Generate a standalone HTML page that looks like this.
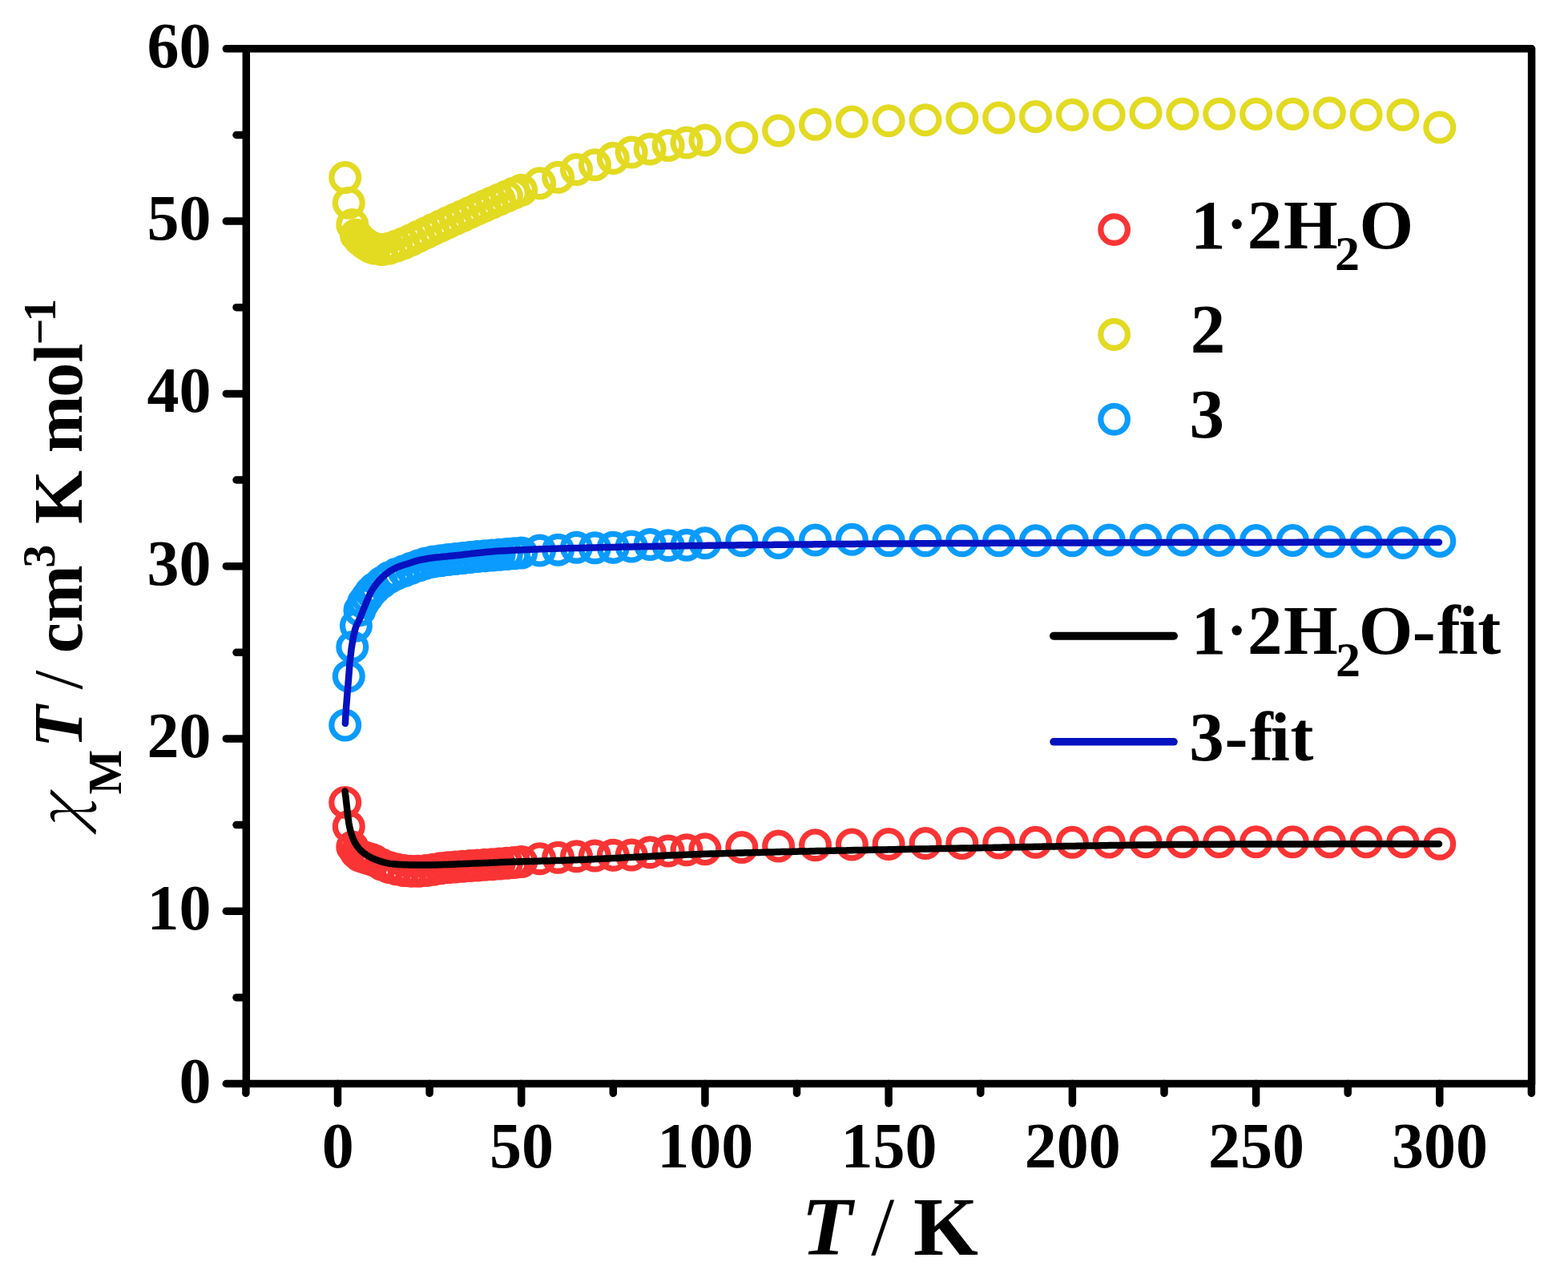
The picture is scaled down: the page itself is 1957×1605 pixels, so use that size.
<!DOCTYPE html>
<html><head><meta charset="utf-8"><style>html,body{margin:0;padding:0;background:#fff;overflow:hidden}svg{display:block}</style></head><body>
<svg width="1957" height="1605" viewBox="0 0 1957 1605">
<rect width="1957" height="1605" fill="#fff"/>
<g fill="none" stroke="#E3DA22" stroke-width="7.2"><circle cx="430.7" cy="221.6" r="16.9"/><circle cx="435.3" cy="253.3" r="16.9"/><circle cx="439.8" cy="280.4" r="16.9"/><circle cx="444.4" cy="293.3" r="16.9"/><circle cx="449.0" cy="298.7" r="16.9"/><circle cx="453.6" cy="302.5" r="16.9"/><circle cx="458.2" cy="305.7" r="16.9"/><circle cx="462.8" cy="308.4" r="16.9"/><circle cx="467.3" cy="310.0" r="16.9"/><circle cx="476.5" cy="311.4" r="16.9"/><circle cx="485.7" cy="310.1" r="16.9"/><circle cx="494.8" cy="307.1" r="16.9"/><circle cx="504.0" cy="303.5" r="16.9"/><circle cx="513.2" cy="299.4" r="16.9"/><circle cx="522.4" cy="295.1" r="16.9"/><circle cx="531.5" cy="290.7" r="16.9"/><circle cx="540.7" cy="286.2" r="16.9"/><circle cx="549.9" cy="281.9" r="16.9"/><circle cx="559.0" cy="277.7" r="16.9"/><circle cx="568.2" cy="273.5" r="16.9"/><circle cx="577.4" cy="269.4" r="16.9"/><circle cx="586.5" cy="265.2" r="16.9"/><circle cx="595.7" cy="261.1" r="16.9"/><circle cx="604.9" cy="257.0" r="16.9"/><circle cx="614.0" cy="252.9" r="16.9"/><circle cx="623.2" cy="248.9" r="16.9"/><circle cx="632.4" cy="245.0" r="16.9"/><circle cx="641.5" cy="241.1" r="16.9"/><circle cx="650.7" cy="237.3" r="16.9"/><circle cx="673.6" cy="228.7" r="16.9"/><circle cx="696.6" cy="221.2" r="16.9"/><circle cx="719.5" cy="211.5" r="16.9"/><circle cx="742.4" cy="205.7" r="16.9"/><circle cx="765.3" cy="197.5" r="16.9"/><circle cx="788.2" cy="190.0" r="16.9"/><circle cx="811.2" cy="185.9" r="16.9"/><circle cx="834.1" cy="181.4" r="16.9"/><circle cx="857.0" cy="178.1" r="16.9"/><circle cx="879.9" cy="175.1" r="16.9"/><circle cx="925.8" cy="171.7" r="16.9"/><circle cx="971.6" cy="162.9" r="16.9"/><circle cx="1017.5" cy="155.3" r="16.9"/><circle cx="1063.3" cy="152.1" r="16.9"/><circle cx="1109.1" cy="150.8" r="16.9"/><circle cx="1155.0" cy="149.7" r="16.9"/><circle cx="1200.8" cy="147.6" r="16.9"/><circle cx="1246.7" cy="146.9" r="16.9"/><circle cx="1292.5" cy="145.4" r="16.9"/><circle cx="1338.4" cy="143.3" r="16.9"/><circle cx="1384.2" cy="143.3" r="16.9"/><circle cx="1430.0" cy="141.1" r="16.9"/><circle cx="1475.9" cy="142.2" r="16.9"/><circle cx="1521.7" cy="142.2" r="16.9"/><circle cx="1567.6" cy="142.2" r="16.9"/><circle cx="1613.4" cy="142.2" r="16.9"/><circle cx="1659.3" cy="141.1" r="16.9"/><circle cx="1705.1" cy="143.3" r="16.9"/><circle cx="1750.9" cy="143.3" r="16.9"/><circle cx="1796.8" cy="159.0" r="16.9"/></g>
<g fill="none" stroke="#0A9BFF" stroke-width="7.2"><circle cx="430.7" cy="905.1" r="16.9"/><circle cx="435.3" cy="844.0" r="16.9"/><circle cx="439.8" cy="807.4" r="16.9"/><circle cx="444.4" cy="780.9" r="16.9"/><circle cx="449.0" cy="761.6" r="16.9"/><circle cx="453.6" cy="751.9" r="16.9"/><circle cx="458.2" cy="745.4" r="16.9"/><circle cx="462.8" cy="739.0" r="16.9"/><circle cx="467.3" cy="734.6" r="16.9"/><circle cx="476.5" cy="727.1" r="16.9"/><circle cx="485.7" cy="720.7" r="16.9"/><circle cx="494.8" cy="716.3" r="16.9"/><circle cx="504.0" cy="712.7" r="16.9"/><circle cx="513.2" cy="709.2" r="16.9"/><circle cx="522.4" cy="706.0" r="16.9"/><circle cx="531.5" cy="703.0" r="16.9"/><circle cx="540.7" cy="701.1" r="16.9"/><circle cx="549.9" cy="699.7" r="16.9"/><circle cx="559.0" cy="698.5" r="16.9"/><circle cx="568.2" cy="697.4" r="16.9"/><circle cx="577.4" cy="696.4" r="16.9"/><circle cx="586.5" cy="695.5" r="16.9"/><circle cx="595.7" cy="694.6" r="16.9"/><circle cx="604.9" cy="693.7" r="16.9"/><circle cx="614.0" cy="692.9" r="16.9"/><circle cx="623.2" cy="692.2" r="16.9"/><circle cx="632.4" cy="691.5" r="16.9"/><circle cx="641.5" cy="690.7" r="16.9"/><circle cx="650.7" cy="689.9" r="16.9"/><circle cx="673.6" cy="687.1" r="16.9"/><circle cx="696.6" cy="686.2" r="16.9"/><circle cx="719.5" cy="683.2" r="16.9"/><circle cx="742.4" cy="683.8" r="16.9"/><circle cx="765.3" cy="683.2" r="16.9"/><circle cx="788.2" cy="682.1" r="16.9"/><circle cx="811.2" cy="679.5" r="16.9"/><circle cx="834.1" cy="680.8" r="16.9"/><circle cx="857.0" cy="680.2" r="16.9"/><circle cx="879.9" cy="677.8" r="16.9"/><circle cx="925.8" cy="674.8" r="16.9"/><circle cx="971.6" cy="677.6" r="16.9"/><circle cx="1017.5" cy="673.9" r="16.9"/><circle cx="1063.3" cy="673.3" r="16.9"/><circle cx="1109.1" cy="674.8" r="16.9"/><circle cx="1155.0" cy="674.8" r="16.9"/><circle cx="1200.8" cy="674.8" r="16.9"/><circle cx="1246.7" cy="674.8" r="16.9"/><circle cx="1292.5" cy="674.8" r="16.9"/><circle cx="1338.4" cy="674.8" r="16.9"/><circle cx="1384.2" cy="673.9" r="16.9"/><circle cx="1430.0" cy="673.9" r="16.9"/><circle cx="1475.9" cy="673.9" r="16.9"/><circle cx="1521.7" cy="674.4" r="16.9"/><circle cx="1567.6" cy="674.4" r="16.9"/><circle cx="1613.4" cy="674.4" r="16.9"/><circle cx="1659.3" cy="676.1" r="16.9"/><circle cx="1705.1" cy="676.3" r="16.9"/><circle cx="1750.9" cy="677.6" r="16.9"/><circle cx="1796.8" cy="675.4" r="16.9"/></g>
<g fill="none" stroke="#FA3434" stroke-width="7.2"><circle cx="430.7" cy="1001.4" r="16.9"/><circle cx="435.3" cy="1031.5" r="16.9"/><circle cx="439.8" cy="1057.1" r="16.9"/><circle cx="444.4" cy="1064.0" r="16.9"/><circle cx="449.0" cy="1067.9" r="16.9"/><circle cx="453.6" cy="1069.6" r="16.9"/><circle cx="458.2" cy="1070.9" r="16.9"/><circle cx="462.8" cy="1072.2" r="16.9"/><circle cx="467.3" cy="1074.1" r="16.9"/><circle cx="476.5" cy="1079.1" r="16.9"/><circle cx="485.7" cy="1082.4" r="16.9"/><circle cx="494.8" cy="1084.8" r="16.9"/><circle cx="504.0" cy="1086.6" r="16.9"/><circle cx="513.2" cy="1087.2" r="16.9"/><circle cx="522.4" cy="1087.3" r="16.9"/><circle cx="531.5" cy="1086.6" r="16.9"/><circle cx="540.7" cy="1085.2" r="16.9"/><circle cx="549.9" cy="1083.8" r="16.9"/><circle cx="559.0" cy="1082.8" r="16.9"/><circle cx="568.2" cy="1082.0" r="16.9"/><circle cx="577.4" cy="1081.3" r="16.9"/><circle cx="586.5" cy="1080.6" r="16.9"/><circle cx="595.7" cy="1080.0" r="16.9"/><circle cx="604.9" cy="1079.3" r="16.9"/><circle cx="614.0" cy="1078.7" r="16.9"/><circle cx="623.2" cy="1077.9" r="16.9"/><circle cx="632.4" cy="1077.2" r="16.9"/><circle cx="641.5" cy="1076.4" r="16.9"/><circle cx="650.7" cy="1075.4" r="16.9"/><circle cx="673.6" cy="1071.8" r="16.9"/><circle cx="696.6" cy="1070.3" r="16.9"/><circle cx="719.5" cy="1068.8" r="16.9"/><circle cx="742.4" cy="1068.1" r="16.9"/><circle cx="765.3" cy="1067.3" r="16.9"/><circle cx="788.2" cy="1067.0" r="16.9"/><circle cx="811.2" cy="1063.8" r="16.9"/><circle cx="834.1" cy="1062.1" r="16.9"/><circle cx="857.0" cy="1060.8" r="16.9"/><circle cx="879.9" cy="1059.7" r="16.9"/><circle cx="925.8" cy="1057.6" r="16.9"/><circle cx="971.6" cy="1056.1" r="16.9"/><circle cx="1017.5" cy="1054.8" r="16.9"/><circle cx="1063.3" cy="1053.9" r="16.9"/><circle cx="1109.1" cy="1053.5" r="16.9"/><circle cx="1155.0" cy="1052.6" r="16.9"/><circle cx="1200.8" cy="1052.4" r="16.9"/><circle cx="1246.7" cy="1052.0" r="16.9"/><circle cx="1292.5" cy="1051.3" r="16.9"/><circle cx="1338.4" cy="1051.3" r="16.9"/><circle cx="1384.2" cy="1051.1" r="16.9"/><circle cx="1430.0" cy="1050.7" r="16.9"/><circle cx="1475.9" cy="1050.7" r="16.9"/><circle cx="1521.7" cy="1050.7" r="16.9"/><circle cx="1567.6" cy="1050.7" r="16.9"/><circle cx="1613.4" cy="1050.7" r="16.9"/><circle cx="1659.3" cy="1050.7" r="16.9"/><circle cx="1705.1" cy="1050.7" r="16.9"/><circle cx="1750.9" cy="1050.7" r="16.9"/><circle cx="1796.8" cy="1053.3" r="16.9"/></g>
<path d="M430.6 987.5 L431.0 991.1 L431.5 994.6 L431.9 998.2 L432.3 1001.7 L432.7 1005.3 L433.1 1008.8 L433.5 1012.4 L433.9 1016.0 L434.3 1019.5 L434.8 1023.1 L435.3 1026.6 L435.9 1030.1 L436.6 1033.6 L437.5 1037.2 L438.5 1040.6 L439.6 1044.0 L440.9 1047.3 L442.4 1050.6 L444.2 1053.7 L446.2 1056.7 L448.4 1059.4 L451.0 1062.0 L453.7 1064.3 L456.6 1066.5 L459.6 1068.4 L462.7 1070.1 L466.0 1071.7 L469.3 1073.1 L472.7 1074.3 L476.1 1075.4 L479.6 1076.4 L483.1 1077.2 L486.6 1077.9 L490.1 1078.3 L493.7 1078.6 L497.2 1078.9 L500.8 1079.1 L504.4 1079.3 L508.0 1079.3 L511.6 1079.4 L515.1 1079.5 L518.7 1079.5 L522.3 1079.6 L525.9 1079.6 L529.5 1079.6 L533.0 1079.6 L536.6 1079.6 L540.2 1079.5 L543.8 1079.4 L547.3 1079.3 L550.9 1079.2 L554.5 1079.1 L558.1 1079.0 L561.7 1078.8 L565.2 1078.7 L568.8 1078.5 L572.4 1078.3 L576.0 1078.2 L579.5 1078.0 L583.1 1077.9 L586.7 1077.7 L590.3 1077.6 L593.8 1077.4 L597.4 1077.3 L601.0 1077.2 L604.6 1077.0 L608.1 1076.9 L611.7 1076.7 L615.3 1076.6 L618.9 1076.4 L622.5 1076.3 L626.0 1076.1 L629.6 1076.0 L633.2 1075.8 L636.8 1075.7 L640.3 1075.6 L643.9 1075.5 L647.5 1075.4 L651.1 1075.3 L654.6 1075.2 L658.2 1075.1 L661.8 1075.0 L665.4 1074.9 L669.0 1074.8 L672.5 1074.7 L676.1 1074.6 L679.7 1074.5 L683.3 1074.4 L686.8 1074.3 L690.4 1074.2 L694.0 1074.1 L697.6 1074.0 L701.2 1073.9 L704.7 1073.7 L708.3 1073.6 L711.9 1073.5 L715.5 1073.3 L719.0 1073.2 L722.6 1073.0 L726.2 1072.9 L729.8 1072.7 L733.3 1072.6 L736.9 1072.4 L740.5 1072.3 L744.1 1072.1 L747.6 1071.9 L751.2 1071.8 L754.8 1071.6 L758.4 1071.4 L761.9 1071.2 L765.5 1071.0 L769.1 1070.9 L772.7 1070.7 L776.2 1070.5 L779.8 1070.3 L783.4 1070.1 L787.0 1069.9 L790.5 1069.8 L794.1 1069.6 L797.7 1069.4 L801.3 1069.2 L804.8 1069.0 L808.4 1068.9 L812.0 1068.7 L815.6 1068.5 L819.1 1068.3 L822.7 1068.1 L826.3 1068.0 L829.9 1067.8 L833.4 1067.6 L837.0 1067.5 L840.6 1067.3 L844.2 1067.2 L847.7 1067.0 L851.3 1066.9 L854.9 1066.7 L858.5 1066.6 L862.0 1066.4 L865.6 1066.3 L869.2 1066.2 L872.8 1066.0 L876.3 1065.9 L879.9 1065.8 L883.5 1065.7 L887.1 1065.6 L890.6 1065.5 L894.2 1065.4 L897.8 1065.3 L901.4 1065.2 L905.0 1065.1 L908.5 1064.9 L912.1 1064.8 L915.7 1064.7 L919.3 1064.6 L922.8 1064.5 L926.4 1064.4 L930.0 1064.3 L933.6 1064.2 L937.1 1064.2 L940.7 1064.1 L944.3 1064.0 L947.9 1063.9 L951.5 1063.8 L955.0 1063.7 L958.6 1063.6 L962.2 1063.5 L965.8 1063.4 L969.3 1063.3 L972.9 1063.2 L976.5 1063.1 L980.1 1063.1 L983.7 1063.0 L987.2 1062.9 L990.8 1062.8 L994.4 1062.7 L998.0 1062.6 L1001.5 1062.5 L1005.1 1062.5 L1008.7 1062.4 L1012.3 1062.3 L1015.9 1062.2 L1019.4 1062.1 L1023.0 1062.1 L1026.6 1062.0 L1030.2 1061.9 L1033.8 1061.8 L1037.3 1061.7 L1040.9 1061.7 L1044.5 1061.6 L1048.1 1061.5 L1051.6 1061.4 L1055.2 1061.4 L1058.8 1061.3 L1062.4 1061.2 L1066.0 1061.1 L1069.5 1061.1 L1073.1 1061.0 L1076.7 1060.9 L1080.3 1060.9 L1083.8 1060.8 L1087.4 1060.7 L1091.0 1060.6 L1094.6 1060.6 L1098.2 1060.5 L1101.7 1060.4 L1105.3 1060.4 L1108.9 1060.3 L1112.5 1060.2 L1116.1 1060.2 L1119.6 1060.1 L1123.2 1060.0 L1126.8 1060.0 L1130.4 1059.9 L1133.9 1059.8 L1137.5 1059.7 L1141.1 1059.7 L1144.7 1059.6 L1148.3 1059.5 L1151.8 1059.5 L1155.4 1059.4 L1159.0 1059.4 L1162.6 1059.3 L1166.2 1059.2 L1169.7 1059.2 L1173.3 1059.1 L1176.9 1059.0 L1180.5 1059.0 L1184.0 1058.9 L1187.6 1058.8 L1191.2 1058.8 L1194.8 1058.7 L1198.4 1058.6 L1201.9 1058.6 L1205.5 1058.5 L1209.1 1058.4 L1212.7 1058.4 L1216.3 1058.3 L1219.8 1058.2 L1223.4 1058.2 L1227.0 1058.1 L1230.6 1058.0 L1234.1 1058.0 L1237.7 1057.9 L1241.3 1057.8 L1244.9 1057.8 L1248.5 1057.7 L1252.0 1057.6 L1255.6 1057.5 L1259.2 1057.5 L1262.8 1057.4 L1266.3 1057.3 L1269.9 1057.3 L1273.5 1057.2 L1277.1 1057.1 L1280.7 1057.0 L1284.2 1057.0 L1287.8 1056.9 L1291.4 1056.8 L1295.0 1056.8 L1298.6 1056.7 L1302.1 1056.6 L1305.7 1056.6 L1309.3 1056.5 L1312.9 1056.4 L1316.4 1056.4 L1320.0 1056.3 L1323.6 1056.2 L1327.2 1056.1 L1330.8 1056.1 L1334.3 1056.0 L1337.9 1055.9 L1341.5 1055.9 L1345.1 1055.8 L1348.7 1055.8 L1352.2 1055.7 L1355.8 1055.6 L1359.4 1055.6 L1363.0 1055.5 L1366.5 1055.4 L1370.1 1055.4 L1373.7 1055.3 L1377.3 1055.3 L1380.9 1055.2 L1384.4 1055.1 L1388.0 1055.1 L1391.6 1055.0 L1395.2 1055.0 L1398.7 1054.9 L1402.3 1054.9 L1405.9 1054.8 L1409.5 1054.7 L1413.1 1054.7 L1416.6 1054.6 L1420.2 1054.6 L1423.8 1054.5 L1427.4 1054.5 L1431.0 1054.4 L1434.5 1054.4 L1438.1 1054.4 L1441.7 1054.3 L1445.3 1054.3 L1448.9 1054.2 L1452.4 1054.2 L1456.0 1054.2 L1459.6 1054.1 L1463.2 1054.1 L1466.7 1054.0 L1470.3 1054.0 L1473.9 1054.0 L1477.5 1053.9 L1481.1 1053.9 L1484.6 1053.9 L1488.2 1053.9 L1491.8 1053.8 L1495.4 1053.8 L1499.0 1053.8 L1502.5 1053.8 L1506.1 1053.8 L1509.7 1053.7 L1513.3 1053.7 L1516.8 1053.7 L1520.4 1053.7 L1524.0 1053.7 L1527.6 1053.7 L1531.2 1053.7 L1534.7 1053.7 L1538.3 1053.6 L1541.9 1053.6 L1545.5 1053.6 L1549.1 1053.6 L1552.6 1053.6 L1556.2 1053.6 L1559.8 1053.6 L1563.4 1053.6 L1566.9 1053.6 L1570.5 1053.5 L1574.1 1053.5 L1577.7 1053.5 L1581.3 1053.5 L1584.8 1053.5 L1588.4 1053.5 L1592.0 1053.5 L1595.6 1053.5 L1599.2 1053.5 L1602.7 1053.5 L1606.3 1053.5 L1609.9 1053.4 L1613.5 1053.4 L1617.1 1053.4 L1620.6 1053.4 L1624.2 1053.4 L1627.8 1053.4 L1631.4 1053.4 L1634.9 1053.4 L1638.5 1053.4 L1642.1 1053.4 L1645.7 1053.4 L1649.3 1053.4 L1652.8 1053.4 L1656.4 1053.3 L1660.0 1053.3 L1663.6 1053.3 L1667.2 1053.3 L1670.7 1053.3 L1674.3 1053.3 L1677.9 1053.3 L1681.5 1053.3 L1685.1 1053.3 L1688.6 1053.3 L1692.2 1053.3 L1695.8 1053.3 L1699.4 1053.3 L1702.9 1053.3 L1706.5 1053.3 L1710.1 1053.3 L1713.7 1053.3 L1717.3 1053.2 L1720.8 1053.2 L1724.4 1053.2 L1728.0 1053.2 L1731.6 1053.2 L1735.2 1053.2 L1738.7 1053.2 L1742.3 1053.2 L1745.9 1053.2 L1749.5 1053.2 L1753.1 1053.2 L1756.6 1053.2 L1760.2 1053.2 L1763.8 1053.2 L1767.4 1053.2 L1770.9 1053.2 L1774.5 1053.2 L1778.1 1053.2 L1781.7 1053.2 L1785.3 1053.2 L1788.8 1053.2 L1792.4 1053.2 L1796.0 1053.2" fill="none" stroke="#000" stroke-width="8.5" stroke-linecap="round" stroke-linejoin="round"/>
<path d="M430.9 903.0 L431.1 899.2 L431.3 895.4 L431.5 891.6 L431.8 887.8 L432.0 884.0 L432.3 880.2 L432.6 876.4 L432.9 872.6 L433.2 868.9 L433.5 865.1 L433.9 861.3 L434.2 857.5 L434.5 853.7 L434.8 849.9 L435.1 846.1 L435.4 842.3 L435.7 838.5 L436.0 834.7 L436.3 830.9 L436.6 827.2 L437.0 823.4 L437.4 819.6 L437.9 815.8 L438.3 812.0 L438.8 808.2 L439.4 804.4 L440.0 800.7 L440.7 796.9 L441.4 793.2 L442.2 789.5 L443.1 785.9 L444.2 782.3 L445.7 778.8 L447.4 775.4 L449.1 771.9 L450.6 768.4 L452.0 764.9 L453.4 761.3 L454.8 757.8 L456.2 754.2 L457.6 750.7 L459.1 747.2 L460.6 743.7 L462.2 740.3 L464.1 737.0 L466.1 733.8 L468.3 730.7 L470.7 727.7 L473.1 724.8 L475.8 722.0 L478.5 719.4 L481.3 716.8 L484.4 714.5 L487.5 712.3 L490.8 710.5 L494.2 708.7 L497.7 707.2 L501.2 706.0 L504.9 704.8 L508.5 703.7 L512.2 702.5 L515.8 701.3 L519.4 700.1 L523.0 699.2 L526.8 698.4 L530.5 697.7 L534.3 697.0 L538.0 696.5 L541.8 696.0 L545.6 695.6 L549.3 695.2 L553.1 694.8 L556.9 694.5 L560.7 694.1 L564.5 693.7 L568.3 693.3 L572.1 692.9 L575.8 692.5 L579.6 692.0 L583.4 691.6 L587.2 691.1 L591.0 690.7 L594.7 690.3 L598.5 689.9 L602.3 689.5 L606.1 689.1 L609.9 688.7 L613.7 688.4 L617.4 688.1 L621.2 687.8 L625.0 687.6 L628.8 687.4 L632.6 687.2 L636.4 687.0 L640.2 686.8 L644.0 686.6 L647.8 686.4 L651.6 686.2 L655.4 686.1 L659.2 685.9 L663.0 685.7 L666.8 685.6 L670.6 685.5 L674.4 685.3 L678.2 685.2 L682.0 685.1 L685.8 684.9 L689.6 684.8 L693.4 684.7 L697.2 684.6 L701.0 684.5 L704.8 684.4 L708.6 684.3 L712.4 684.2 L716.2 684.1 L720.0 684.0 L723.8 683.9 L727.6 683.8 L731.4 683.7 L735.2 683.6 L739.0 683.5 L742.8 683.4 L746.6 683.3 L750.4 683.2 L754.2 683.1 L758.0 683.0 L761.8 682.9 L765.6 682.9 L769.4 682.8 L773.2 682.7 L777.0 682.6 L780.8 682.5 L784.6 682.5 L788.4 682.4 L792.2 682.3 L796.0 682.2 L799.8 682.2 L803.6 682.1 L807.4 682.0 L811.2 681.9 L815.0 681.9 L818.8 681.8 L822.6 681.7 L826.4 681.7 L830.2 681.6 L834.0 681.5 L837.8 681.5 L841.7 681.4 L845.5 681.4 L849.3 681.3 L853.1 681.2 L856.9 681.2 L860.7 681.1 L864.5 681.1 L868.3 681.0 L872.1 681.0 L875.9 680.9 L879.7 680.9 L883.5 680.8 L887.3 680.8 L891.1 680.7 L894.9 680.7 L898.7 680.6 L902.5 680.6 L906.3 680.5 L910.1 680.5 L913.9 680.4 L917.7 680.4 L921.5 680.3 L925.3 680.3 L929.1 680.3 L932.9 680.2 L936.7 680.2 L940.5 680.1 L944.3 680.1 L948.1 680.0 L951.9 680.0 L955.7 679.9 L959.5 679.9 L963.3 679.9 L967.1 679.8 L970.9 679.8 L974.7 679.7 L978.5 679.7 L982.3 679.7 L986.1 679.6 L989.9 679.6 L993.7 679.5 L997.5 679.5 L1001.3 679.5 L1005.1 679.4 L1008.9 679.4 L1012.7 679.4 L1016.5 679.3 L1020.3 679.3 L1024.1 679.2 L1027.9 679.2 L1031.8 679.2 L1035.6 679.1 L1039.4 679.1 L1043.2 679.1 L1047.0 679.0 L1050.8 679.0 L1054.6 679.0 L1058.4 678.9 L1062.2 678.9 L1066.0 678.9 L1069.8 678.8 L1073.6 678.8 L1077.4 678.8 L1081.2 678.8 L1085.0 678.7 L1088.8 678.7 L1092.6 678.7 L1096.4 678.6 L1100.2 678.6 L1104.0 678.6 L1107.8 678.5 L1111.6 678.5 L1115.4 678.5 L1119.2 678.5 L1123.0 678.4 L1126.8 678.4 L1130.6 678.4 L1134.4 678.4 L1138.2 678.3 L1142.0 678.3 L1145.8 678.3 L1149.6 678.3 L1153.4 678.2 L1157.2 678.2 L1161.0 678.2 L1164.8 678.2 L1168.6 678.2 L1172.4 678.1 L1176.2 678.1 L1180.0 678.1 L1183.8 678.1 L1187.6 678.1 L1191.4 678.0 L1195.2 678.0 L1199.0 678.0 L1202.9 678.0 L1206.7 678.0 L1210.5 678.0 L1214.3 677.9 L1218.1 677.9 L1221.9 677.9 L1225.7 677.9 L1229.5 677.9 L1233.3 677.9 L1237.1 677.8 L1240.9 677.8 L1244.7 677.8 L1248.5 677.8 L1252.3 677.8 L1256.1 677.8 L1259.9 677.7 L1263.7 677.7 L1267.5 677.7 L1271.3 677.7 L1275.1 677.7 L1278.9 677.7 L1282.7 677.6 L1286.5 677.6 L1290.3 677.6 L1294.1 677.6 L1297.9 677.6 L1301.7 677.6 L1305.5 677.6 L1309.3 677.6 L1313.1 677.5 L1316.9 677.5 L1320.7 677.5 L1324.5 677.5 L1328.3 677.5 L1332.1 677.5 L1335.9 677.5 L1339.7 677.4 L1343.5 677.4 L1347.3 677.4 L1351.1 677.4 L1354.9 677.4 L1358.7 677.4 L1362.5 677.4 L1366.3 677.4 L1370.1 677.3 L1374.0 677.3 L1377.8 677.3 L1381.6 677.3 L1385.4 677.3 L1389.2 677.3 L1393.0 677.3 L1396.8 677.3 L1400.6 677.3 L1404.4 677.2 L1408.2 677.2 L1412.0 677.2 L1415.8 677.2 L1419.6 677.2 L1423.4 677.2 L1427.2 677.2 L1431.0 677.2 L1434.8 677.2 L1438.6 677.2 L1442.4 677.2 L1446.2 677.1 L1450.0 677.1 L1453.8 677.1 L1457.6 677.1 L1461.4 677.1 L1465.2 677.1 L1469.0 677.1 L1472.8 677.1 L1476.6 677.1 L1480.4 677.1 L1484.2 677.1 L1488.0 677.1 L1491.8 677.0 L1495.6 677.0 L1499.4 677.0 L1503.2 677.0 L1507.0 677.0 L1510.8 677.0 L1514.6 677.0 L1518.4 677.0 L1522.2 677.0 L1526.0 677.0 L1529.8 677.0 L1533.6 677.0 L1537.4 677.0 L1541.2 677.0 L1545.1 677.0 L1548.9 677.0 L1552.7 676.9 L1556.5 676.9 L1560.3 676.9 L1564.1 676.9 L1567.9 676.9 L1571.7 676.9 L1575.5 676.9 L1579.3 676.9 L1583.1 676.9 L1586.9 676.9 L1590.7 676.9 L1594.5 676.9 L1598.3 676.9 L1602.1 676.9 L1605.9 676.9 L1609.7 676.9 L1613.5 676.9 L1617.3 676.9 L1621.1 676.8 L1624.9 676.8 L1628.7 676.8 L1632.5 676.8 L1636.3 676.8 L1640.1 676.8 L1643.9 676.8 L1647.7 676.8 L1651.5 676.8 L1655.3 676.8 L1659.1 676.8 L1662.9 676.8 L1666.7 676.8 L1670.5 676.8 L1674.3 676.8 L1678.1 676.8 L1681.9 676.8 L1685.7 676.8 L1689.5 676.8 L1693.3 676.8 L1697.1 676.8 L1700.9 676.8 L1704.7 676.8 L1708.5 676.7 L1712.4 676.7 L1716.2 676.7 L1720.0 676.7 L1723.8 676.7 L1727.6 676.7 L1731.4 676.7 L1735.2 676.7 L1739.0 676.7 L1742.8 676.7 L1746.6 676.7 L1750.4 676.7 L1754.2 676.7 L1758.0 676.7 L1761.8 676.7 L1765.6 676.7 L1769.4 676.7 L1773.2 676.7 L1777.0 676.7 L1780.8 676.7 L1784.6 676.7 L1788.4 676.7 L1792.2 676.7 L1796.0 676.7" fill="none" stroke="#0512C0" stroke-width="8.5" stroke-linecap="round" stroke-linejoin="round"/>
<g stroke="#000" stroke-width="9.5" stroke-linecap="round"><rect x="307.3" y="60.8" width="1604.3" height="1291.7" fill="none" stroke="#000" stroke-width="9.5" stroke-linejoin="round"/><line x1="307.3" y1="1352.5" x2="282.3" y2="1352.5"/><line x1="307.3" y1="1244.9" x2="295.0" y2="1244.9"/><line x1="307.3" y1="1137.2" x2="282.3" y2="1137.2"/><line x1="307.3" y1="1029.6" x2="295.0" y2="1029.6"/><line x1="307.3" y1="921.9" x2="282.3" y2="921.9"/><line x1="307.3" y1="814.3" x2="295.0" y2="814.3"/><line x1="307.3" y1="706.7" x2="282.3" y2="706.7"/><line x1="307.3" y1="599.0" x2="295.0" y2="599.0"/><line x1="307.3" y1="491.4" x2="282.3" y2="491.4"/><line x1="307.3" y1="383.7" x2="295.0" y2="383.7"/><line x1="307.3" y1="276.1" x2="282.3" y2="276.1"/><line x1="307.3" y1="168.5" x2="295.0" y2="168.5"/><line x1="307.3" y1="60.8" x2="282.3" y2="60.8"/><line x1="306.9" y1="1352.5" x2="306.9" y2="1364.5"/><line x1="421.5" y1="1352.5" x2="421.5" y2="1377.0"/><line x1="536.1" y1="1352.5" x2="536.1" y2="1364.5"/><line x1="650.7" y1="1352.5" x2="650.7" y2="1377.0"/><line x1="765.3" y1="1352.5" x2="765.3" y2="1364.5"/><line x1="879.9" y1="1352.5" x2="879.9" y2="1377.0"/><line x1="994.5" y1="1352.5" x2="994.5" y2="1364.5"/><line x1="1109.1" y1="1352.5" x2="1109.1" y2="1377.0"/><line x1="1223.8" y1="1352.5" x2="1223.8" y2="1364.5"/><line x1="1338.4" y1="1352.5" x2="1338.4" y2="1377.0"/><line x1="1453.0" y1="1352.5" x2="1453.0" y2="1364.5"/><line x1="1567.6" y1="1352.5" x2="1567.6" y2="1377.0"/><line x1="1682.2" y1="1352.5" x2="1682.2" y2="1364.5"/><line x1="1796.8" y1="1352.5" x2="1796.8" y2="1377.0"/><line x1="1911.4" y1="1352.5" x2="1911.4" y2="1364.5"/></g>
<g font-family="Liberation Serif, serif" font-weight="bold" font-size="80" fill="#000"><text x="263.6" y="1375.5" text-anchor="end">0</text><text x="263.6" y="1160.2" text-anchor="end">10</text><text x="263.6" y="944.9" text-anchor="end">20</text><text x="263.6" y="729.7" text-anchor="end">30</text><text x="263.6" y="514.4" text-anchor="end">40</text><text x="263.6" y="299.1" text-anchor="end">50</text><text x="263.6" y="83.8" text-anchor="end">60</text><text x="421.8" y="1456.8" text-anchor="middle">0</text><text x="651.0" y="1456.8" text-anchor="middle">50</text><text x="880.2" y="1456.8" text-anchor="middle">100</text><text x="1109.4" y="1456.8" text-anchor="middle">150</text><text x="1338.7" y="1456.8" text-anchor="middle">200</text><text x="1567.9" y="1456.8" text-anchor="middle">250</text><text x="1797.1" y="1456.8" text-anchor="middle">300</text></g>
<text font-family="Liberation Serif, serif" fill="#000"><tspan x="1000.33" y="1566.30" font-size="104.0" font-weight="bold" font-style="italic">T</tspan><tspan x="1087.30" y="1566.30" font-size="104.0" font-weight="normal">/</tspan><tspan x="1139.92" y="1566.30" font-size="104.0" font-weight="bold">K</tspan></text>
<g transform="translate(102.3,1041) rotate(-90)" font-family="Liberation Serif, serif" fill="#000"><text><tspan x="49.49" y="48.90" font-size="59.0" font-weight="bold">M</tspan><tspan x="107.74" y="0.00" font-size="86.0" font-weight="bold" font-style="italic">T</tspan><tspan x="180.60" y="0.00" font-size="86.0" font-weight="normal">/</tspan><tspan x="225.86" y="0.00" font-size="86.0" font-weight="bold">c</tspan><tspan x="263.99" y="0.00" font-size="86.0" font-weight="bold">m</tspan><tspan x="332.22" y="-34.00" font-size="58.0" font-weight="bold">3</tspan><tspan x="387.03" y="0.00" font-size="86.0" font-weight="bold">K</tspan><tspan x="475.69" y="0.00" font-size="86.0" font-weight="bold">m</tspan><tspan x="545.32" y="0.00" font-size="86.0" font-weight="bold">o</tspan><tspan x="588.42" y="0.00" font-size="86.0" font-weight="bold">l</tspan><tspan x="610.64" y="-33.00" font-size="58.0" font-weight="bold">−</tspan><tspan x="639.36" y="-33.00" font-size="58.0" font-weight="bold">1</tspan></text></g><g transform="translate(103.8,1039.3) rotate(-90)"><text x="0" y="0" font-family="Noto Serif CJK SC, serif" font-size="78" transform="skewX(-20)">χ</text></g>
<circle cx="1390.6" cy="286.6" r="16.8" fill="none" stroke="#FA3434" stroke-width="7.2"/><circle cx="1390.6" cy="417.5" r="16.8" fill="none" stroke="#E3DA22" stroke-width="7.2"/><circle cx="1390.6" cy="523.3" r="16.8" fill="none" stroke="#0A9BFF" stroke-width="7.2"/><line x1="1315" y1="793.8" x2="1465" y2="793.8" stroke="#000" stroke-width="10" stroke-linecap="round"/><line x1="1315" y1="925.8" x2="1465" y2="925.8" stroke="#0512C0" stroke-width="9.6" stroke-linecap="round"/><text font-family="Liberation Serif, serif" fill="#000"><tspan x="1486.03" y="310.00" font-size="87.0" font-weight="bold">1</tspan><tspan x="1531.01" y="305.40" font-size="76.0" font-weight="bold">·</tspan><tspan x="1556.85" y="310.00" font-size="87.0" font-weight="bold">2</tspan><tspan x="1601.91" y="310.00" font-size="87.0" font-weight="bold">H</tspan><tspan x="1666.00" y="337.30" font-size="62.0" font-weight="bold">2</tspan><tspan x="1696.55" y="310.00" font-size="87.0" font-weight="bold">O</tspan><tspan x="1485.85" y="440.20" font-size="87.0" font-weight="bold">2</tspan><tspan x="1484.43" y="546.10" font-size="87.0" font-weight="bold">3</tspan><tspan x="1486.63" y="816.40" font-size="87.0" font-weight="bold">1</tspan><tspan x="1531.11" y="811.80" font-size="76.0" font-weight="bold">·</tspan><tspan x="1557.05" y="816.40" font-size="87.0" font-weight="bold">2</tspan><tspan x="1602.11" y="816.40" font-size="87.0" font-weight="bold">H</tspan><tspan x="1667.00" y="843.70" font-size="62.0" font-weight="bold">2</tspan><tspan x="1695.75" y="816.40" font-size="87.0" font-weight="bold">O</tspan><tspan x="1762.81" y="816.40" font-size="87.0" font-weight="bold">-</tspan><tspan x="1793.66" y="816.40" font-size="87.0" font-weight="bold">f</tspan><tspan x="1820.59" y="816.40" font-size="87.0" font-weight="bold">i</tspan><tspan x="1844.20" y="816.40" font-size="87.0" font-weight="bold">t</tspan><tspan x="1484.13" y="948.50" font-size="87.0" font-weight="bold">3</tspan><tspan x="1528.51" y="948.50" font-size="87.0" font-weight="bold">-</tspan><tspan x="1559.76" y="948.50" font-size="87.0" font-weight="bold">f</tspan><tspan x="1585.79" y="948.50" font-size="87.0" font-weight="bold">i</tspan><tspan x="1610.60" y="948.50" font-size="87.0" font-weight="bold">t</tspan></text>
</svg>
</body></html>
